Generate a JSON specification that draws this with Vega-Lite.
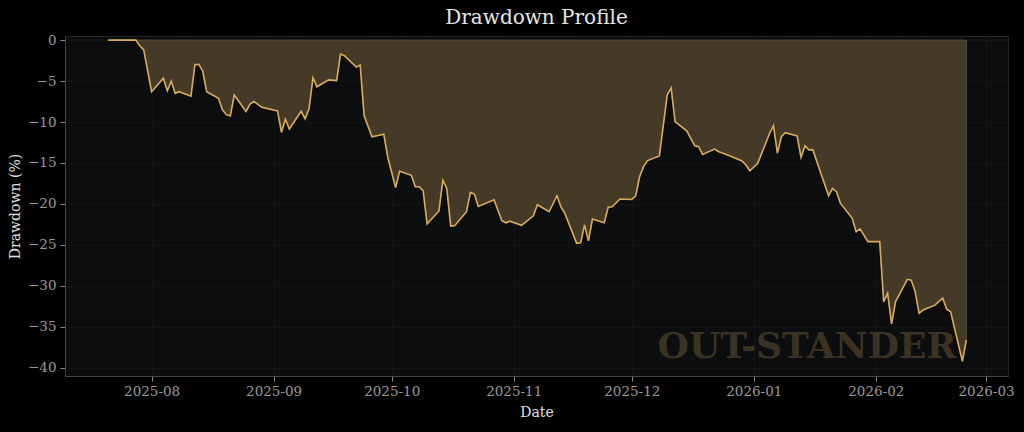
{
  "$schema": "https://vega.github.io/schema/vega-lite/v6.json",
  "autosize": {"type": "none"},
  "width": 943,
  "height": 340,
  "padding": {"left": 65, "top": 36, "right": 16, "bottom": 56},
  "background": "#000000",
  "title": {
    "text": "Drawdown Profile",
    "font": "DejaVu Serif",
    "fontSize": 20,
    "fontWeight": "normal",
    "color": "#e6e6e6",
    "offset": 5,
    "anchor": "middle"
  },
  "config": {
    "view": {"fill": "#0c0d0f", "stroke": "#262626", "strokeWidth": 1},
    "axis": {
      "labelFont": "DejaVu Serif",
      "labelFontSize": 13.5,
      "labelColor": "#9a9a9a",
      "titleFont": "DejaVu Serif",
      "titleFontSize": 14,
      "titleFontWeight": "normal",
      "titleColor": "#e0e0e0",
      "domainColor": "#444444",
      "tickColor": "#8a8a8a",
      "tickSize": 5,
      "gridColor": "#1f2022",
      "gridDash": [2, 2],
      "gridWidth": 0.8
    }
  },
  "datasets": {
    "dd": [
      {"date": "2025-07-21", "dd": 0},
      {"date": "2025-07-28", "dd": 0},
      {"date": "2025-07-29", "dd": -0.7},
      {"date": "2025-07-30", "dd": -1.2},
      {"date": "2025-08-01", "dd": -6.3},
      {"date": "2025-08-04", "dd": -4.65},
      {"date": "2025-08-05", "dd": -6.2},
      {"date": "2025-08-06", "dd": -5.0},
      {"date": "2025-08-07", "dd": -6.5},
      {"date": "2025-08-08", "dd": -6.3},
      {"date": "2025-08-11", "dd": -6.85},
      {"date": "2025-08-12", "dd": -3.0},
      {"date": "2025-08-13", "dd": -2.95},
      {"date": "2025-08-14", "dd": -3.8},
      {"date": "2025-08-15", "dd": -6.3},
      {"date": "2025-08-18", "dd": -7.1},
      {"date": "2025-08-19", "dd": -8.5},
      {"date": "2025-08-20", "dd": -9.1},
      {"date": "2025-08-21", "dd": -9.25},
      {"date": "2025-08-22", "dd": -6.7},
      {"date": "2025-08-25", "dd": -8.7},
      {"date": "2025-08-26", "dd": -7.8},
      {"date": "2025-08-27", "dd": -7.5},
      {"date": "2025-08-29", "dd": -8.2},
      {"date": "2025-09-02", "dd": -8.65},
      {"date": "2025-09-03", "dd": -11.25},
      {"date": "2025-09-04", "dd": -9.65},
      {"date": "2025-09-05", "dd": -10.85},
      {"date": "2025-09-08", "dd": -8.7},
      {"date": "2025-09-09", "dd": -9.6},
      {"date": "2025-09-10", "dd": -8.4},
      {"date": "2025-09-11", "dd": -4.6},
      {"date": "2025-09-12", "dd": -5.7},
      {"date": "2025-09-15", "dd": -4.85},
      {"date": "2025-09-17", "dd": -4.95},
      {"date": "2025-09-18", "dd": -1.7},
      {"date": "2025-09-19", "dd": -1.9},
      {"date": "2025-09-22", "dd": -3.3},
      {"date": "2025-09-23", "dd": -3.05},
      {"date": "2025-09-24", "dd": -9.25},
      {"date": "2025-09-26", "dd": -11.8},
      {"date": "2025-09-29", "dd": -11.5},
      {"date": "2025-09-30", "dd": -14.3},
      {"date": "2025-10-02", "dd": -18.0},
      {"date": "2025-10-03", "dd": -16.0},
      {"date": "2025-10-06", "dd": -16.5},
      {"date": "2025-10-07", "dd": -17.9},
      {"date": "2025-10-08", "dd": -17.9},
      {"date": "2025-10-09", "dd": -18.4},
      {"date": "2025-10-10", "dd": -22.45},
      {"date": "2025-10-13", "dd": -20.85},
      {"date": "2025-10-14", "dd": -17.1},
      {"date": "2025-10-15", "dd": -18.1},
      {"date": "2025-10-16", "dd": -22.7},
      {"date": "2025-10-17", "dd": -22.65},
      {"date": "2025-10-20", "dd": -20.95},
      {"date": "2025-10-21", "dd": -18.6},
      {"date": "2025-10-22", "dd": -18.8},
      {"date": "2025-10-23", "dd": -20.3},
      {"date": "2025-10-27", "dd": -19.5},
      {"date": "2025-10-29", "dd": -22.05},
      {"date": "2025-10-30", "dd": -22.3},
      {"date": "2025-10-31", "dd": -22.1},
      {"date": "2025-11-03", "dd": -22.6},
      {"date": "2025-11-06", "dd": -21.45},
      {"date": "2025-11-07", "dd": -20.1},
      {"date": "2025-11-10", "dd": -20.95},
      {"date": "2025-11-12", "dd": -19.0},
      {"date": "2025-11-13", "dd": -20.35},
      {"date": "2025-11-14", "dd": -21.15},
      {"date": "2025-11-17", "dd": -24.8},
      {"date": "2025-11-18", "dd": -24.75},
      {"date": "2025-11-19", "dd": -22.55},
      {"date": "2025-11-20", "dd": -24.5},
      {"date": "2025-11-21", "dd": -21.85},
      {"date": "2025-11-24", "dd": -22.3},
      {"date": "2025-11-25", "dd": -20.4},
      {"date": "2025-11-26", "dd": -20.35},
      {"date": "2025-11-28", "dd": -19.4},
      {"date": "2025-12-01", "dd": -19.45},
      {"date": "2025-12-02", "dd": -19.0},
      {"date": "2025-12-03", "dd": -16.65},
      {"date": "2025-12-04", "dd": -15.45},
      {"date": "2025-12-05", "dd": -14.7},
      {"date": "2025-12-08", "dd": -14.15},
      {"date": "2025-12-10", "dd": -6.7},
      {"date": "2025-12-11", "dd": -5.85},
      {"date": "2025-12-12", "dd": -9.95},
      {"date": "2025-12-15", "dd": -11.1},
      {"date": "2025-12-17", "dd": -12.9},
      {"date": "2025-12-18", "dd": -13.0},
      {"date": "2025-12-19", "dd": -13.95},
      {"date": "2025-12-22", "dd": -13.3},
      {"date": "2025-12-23", "dd": -13.6},
      {"date": "2025-12-26", "dd": -14.15},
      {"date": "2025-12-29", "dd": -14.75},
      {"date": "2025-12-30", "dd": -15.25},
      {"date": "2025-12-31", "dd": -15.95},
      {"date": "2026-01-02", "dd": -15.05},
      {"date": "2026-01-05", "dd": -11.4},
      {"date": "2026-01-06", "dd": -10.45},
      {"date": "2026-01-07", "dd": -13.8},
      {"date": "2026-01-08", "dd": -11.8},
      {"date": "2026-01-09", "dd": -11.3},
      {"date": "2026-01-12", "dd": -11.7},
      {"date": "2026-01-13", "dd": -14.3},
      {"date": "2026-01-14", "dd": -12.9},
      {"date": "2026-01-15", "dd": -13.4},
      {"date": "2026-01-16", "dd": -13.4},
      {"date": "2026-01-20", "dd": -19.0},
      {"date": "2026-01-21", "dd": -18.1},
      {"date": "2026-01-22", "dd": -18.5},
      {"date": "2026-01-23", "dd": -19.9},
      {"date": "2026-01-26", "dd": -21.75},
      {"date": "2026-01-27", "dd": -23.4},
      {"date": "2026-01-28", "dd": -23.05},
      {"date": "2026-01-30", "dd": -24.6},
      {"date": "2026-02-02", "dd": -24.6},
      {"date": "2026-02-03", "dd": -31.95},
      {"date": "2026-02-04", "dd": -30.9},
      {"date": "2026-02-05", "dd": -34.65},
      {"date": "2026-02-06", "dd": -31.95},
      {"date": "2026-02-09", "dd": -29.2},
      {"date": "2026-02-10", "dd": -29.3},
      {"date": "2026-02-11", "dd": -30.7},
      {"date": "2026-02-12", "dd": -33.35},
      {"date": "2026-02-13", "dd": -32.95},
      {"date": "2026-02-16", "dd": -32.35},
      {"date": "2026-02-18", "dd": -31.5},
      {"date": "2026-02-19", "dd": -32.85},
      {"date": "2026-02-20", "dd": -33.15},
      {"date": "2026-02-23", "dd": -39.2},
      {"date": "2026-02-24", "dd": -36.6}
    ],
    "wm": [
      {"date": "2026-01-14T12:00:00Z", "dd": -38.8, "label": "OUT-STANDER"}
    ]
  },
  "encoding": {
    "x": {
      "field": "date",
      "type": "temporal",
      "scale": {
        "type": "utc",
        "domain": [
          {"year": 2025, "month": 7, "date": 10, "hours": 0, "utc": true},
          {"year": 2026, "month": 3, "date": 6, "hours": 14, "utc": true}
        ]
      },
      "axis": {
        "title": "Date",
        "format": "%Y-%m",
        "tickCount": {"interval": "month", "step": 1},
        "labelPadding": 3,
        "titlePadding": 8,
        "grid": true
      }
    },
    "y": {
      "field": "dd",
      "type": "quantitative",
      "scale": {"domain": [-41, 0.5], "nice": false, "zero": false},
      "axis": {
        "title": "Drawdown (%)",
        "values": [0, -5, -10, -15, -20, -25, -30, -35, -40],
        "labelPadding": 4,
        "titlePadding": 5,
        "grid": true
      }
    }
  },
  "layer": [
    {
      "data": {"name": "dd"},
      "mark": {"type": "area", "fill": "#453a27", "stroke": "#5a4a30", "strokeWidth": 1, "interpolate": "linear"},
      "encoding": {"y2": {"datum": 0}}
    },
    {
      "data": {"name": "wm"},
      "mark": {"type": "text", "font": "DejaVu Serif", "fontSize": 36, "fontWeight": "bold", "color": "#3b3222", "baseline": "alphabetic", "align": "center"},
      "encoding": {"text": {"field": "label"}}
    },
    {
      "data": {"name": "dd"},
      "mark": {"type": "line", "color": "#d8ab5a", "strokeWidth": 1.6, "interpolate": "linear"}
    }
  ]
}
